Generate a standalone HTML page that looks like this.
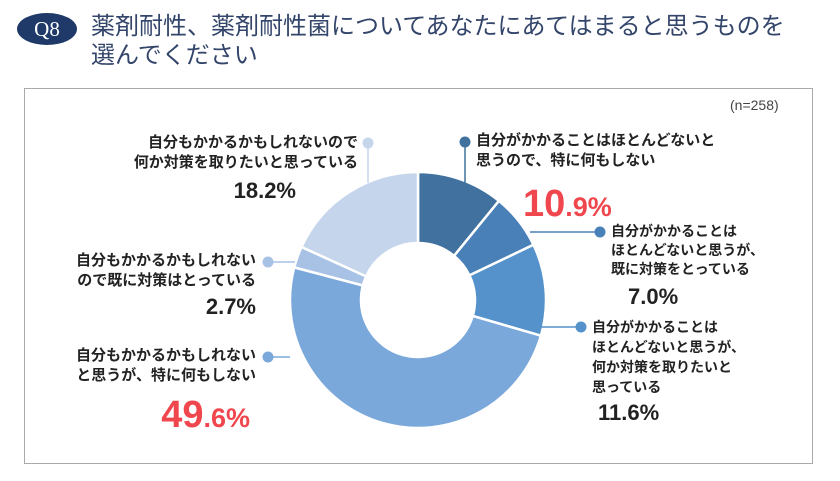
<!DOCTYPE html>
<html><head><meta charset="utf-8"><style>
body{margin:0;width:840px;height:481px;background:#fff;font-family:"Liberation Sans","Noto Sans CJK JP",sans-serif;position:relative;overflow:hidden}
.t{position:absolute;font-weight:bold;font-size:15px;line-height:20px;color:#222;white-space:nowrap}
.r{text-align:right}
.p{position:absolute;font-weight:bold;font-size:22px;color:#222;white-space:nowrap}
.big{position:absolute;font-weight:bold;font-size:38px;color:#f0474e;white-space:nowrap}
.big span{font-size:27px}
</style></head><body>
<div style="position:absolute;left:17px;top:13px;width:60px;height:32px;border-radius:50%;background:#1f3a68;color:#fff;font-size:21px;line-height:32px;text-align:center;font-family:'Liberation Serif',serif">Q8</div>
<div style="position:absolute;left:91px;top:12px;font-size:24px;line-height:29px;color:#33456a">薬剤耐性、薬剤耐性菌についてあなたにあてはまると思うものを<br>選んでください</div>
<div style="position:absolute;left:24px;top:88px;width:787px;height:374px;border:1px solid #aaa"></div>
<div style="position:absolute;left:730px;top:97px;font-size:14px;color:#444">(n=258)</div>
<svg id="c" width="840" height="481" style="position:absolute;left:0;top:0"></svg>
<div class="t" style="left:476px;top:131px">自分がかかることはほとんどないと<br>思うので、特に何もしない</div>
<div class="big" style="left:523px;top:183px">10<span>.9%</span></div>
<div class="t" style="left:611px;top:222px;font-size:14px;line-height:19px">自分がかかることは<br>ほとんどないと思うが、<br>既に対策をとっている</div>
<div class="p" style="left:628px;top:284px">7.0%</div>
<div class="t" style="left:592px;top:317px;font-size:14px;line-height:20px">自分がかかることは<br>ほとんどないと思うが、<br>何か対策を取りたいと<br>思っている</div>
<div class="p" style="left:598px;top:400px">11.6%</div>
<div class="t r" style="right:584px;top:346px">自分もかかるかもしれない<br>と思うが、特に何もしない</div>
<div class="big" style="right:590px;top:394px">49<span>.6%</span></div>
<div class="t r" style="right:584px;top:251px">自分もかかるかもしれない<br>ので既に対策はとっている</div>
<div class="p" style="right:584px;top:294px">2.7%</div>
<div class="t r" style="right:482px;top:133px">自分もかかるかもしれないので<br>何か対策を取りたいと思っている</div>
<div class="p" style="right:544px;top:178px">18.2%</div>
<script>
const categories=["特に何もしない(ほとんどない)","既に対策(ほとんどない)","対策を取りたい(ほとんどない)","特に何もしない(かかるかも)","既に対策(かかるかも)","対策を取りたい(かかるかも)"];
const values=[10.9,7.0,11.6,49.6,2.7,18.2];
const colors=["#41729f","#4a80b8","#5592cb","#7aa8da","#a8c2e6","#c5d5ec"];
const svg=document.getElementById('c');const NS='http://www.w3.org/2000/svg';
const cx=418,cy=300,R=128,r=57;
const total=values.reduce((a,b)=>a+b,0);
function pt(a,rad){return [cx+rad*Math.cos(a),cy+rad*Math.sin(a)];}
let a0=-Math.PI/2;
values.forEach((v,i)=>{const a1=a0+v/total*2*Math.PI;const L=(a1-a0)>Math.PI?1:0;
const [x0,y0]=pt(a0,R),[x1,y1]=pt(a1,R),[x2,y2]=pt(a1,r),[x3,y3]=pt(a0,r);
const p=document.createElementNS(NS,'path');
p.setAttribute('d',`M${x0},${y0}A${R},${R} 0 ${L} 1 ${x1},${y1}L${x2},${y2}A${r},${r} 0 ${L} 0 ${x3},${y3}Z`);
p.setAttribute('fill',colors[i]);p.setAttribute('stroke','#fff');p.setAttribute('stroke-width','2.5');


svg.appendChild(p);a0=a1;});
const leaders=[[465,142,465,186,colors[0]],[600,232,530,232,colors[1]],[581,327,540,327,colors[2]],[268,357,290,357,colors[3]],[268,262,295,262,colors[4]],[368,143,368,183,colors[5]]];
leaders.forEach((l,i)=>{const ln=document.createElementNS(NS,'line');
ln.setAttribute('x1',l[0]);ln.setAttribute('y1',l[1]);ln.setAttribute('x2',l[2]);ln.setAttribute('y2',l[3]);
ln.setAttribute('stroke',l[4]);ln.setAttribute('stroke-width','1.5');


svg.appendChild(ln);
const c=document.createElementNS(NS,'circle');c.setAttribute('cx',l[0]);c.setAttribute('cy',l[1]);c.setAttribute('r','5.5');c.setAttribute('fill',l[4]);


svg.appendChild(c);});
</script>
</body></html>
